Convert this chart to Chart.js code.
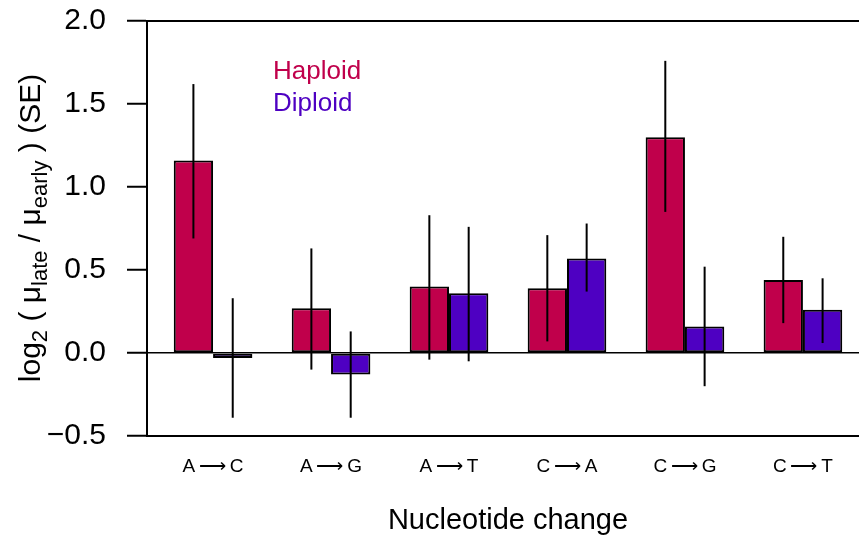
<!DOCTYPE html>
<html>
<head>
<meta charset="utf-8">
<script src="https://cdn.jsdelivr.net/npm/chart.js@4"></script>
<style>
  html, body { margin: 0; padding: 0; background: #fff; overflow: hidden; }
  #wrap { position: relative; width: 880px; height: 535px; }
</style>
</head>
<body>
<div id="wrap"><canvas id="myChart" width="880" height="535"></canvas></div>
<script>
// Chart data
const categories = ['A\u2009\u27F6\u2009C', 'A\u2009\u27F6\u2009G', 'A\u2009\u27F6\u2009T', 'C\u2009\u27F6\u2009A', 'C\u2009\u27F6\u2009G', 'C\u2009\u27F6\u2009T'];
const seriesNames = ['Haploid', 'Diploid'];
const haploid = [1.16, 0.27, 0.40, 0.39, 1.30, 0.44];
const haploidLow = [0.69, -0.10, -0.04, 0.07, 0.85, 0.18];
const haploidHigh = [1.62, 0.63, 0.83, 0.71, 1.76, 0.70];
const diploid = [-0.03, -0.13, 0.36, 0.57, 0.16, 0.26];
const diploidLow = [-0.39, -0.39, -0.05, 0.37, -0.20, 0.06];
const diploidHigh = [0.33, 0.13, 0.76, 0.78, 0.52, 0.45];
const yTicks = [-0.5, 0, 0.5, 1.0, 1.5, 2.0];

const colHap = '#C0004B';
const colDip = '#4E00C2';
const FONT = "'Liberation Sans', Arial, Helvetica, sans-serif";

// R-style barplot layout: each group = 1 gap + 2 bars (3 units)
const centers = categories.map((c, i) => 2 + 3 * i);
function toPoints(vals) {
  return vals.map((v, i) => ({ x: centers[i], y: v }));
}

// vertical SE lines, no caps
const errorBars = {
  id: 'errorBars',
  afterDatasetsDraw(chart) {
    const ctx = chart.ctx;
    const y = chart.scales.y;
    const ranges = [[haploidLow, haploidHigh], [diploidLow, diploidHigh]];
    ctx.save();
    ctx.strokeStyle = '#000';
    ctx.lineWidth = 2;
    ranges.forEach((r, d) => {
      chart.getDatasetMeta(d).data.forEach((bar, i) => {
        ctx.beginPath();
        ctx.moveTo(bar.x, y.getPixelForValue(r[0][i]));
        ctx.lineTo(bar.x, y.getPixelForValue(r[1][i]));
        ctx.stroke();
      });
    });
    ctx.restore();
  }
};

// text legend inside the plot + y title with subscripts
const annotations = {
  id: 'annotations',
  afterDraw(chart) {
    const ctx = chart.ctx;
    ctx.save();
    ctx.font = '26px ' + FONT;
    ctx.textBaseline = 'alphabetic';
    ctx.textAlign = 'left';
    chart.data.datasets.forEach((ds, i) => {
      ctx.fillStyle = ds.backgroundColor;
      ctx.fillText(ds.label, 273, 79 + i * 32);
    });

    // y axis title
    const big = '30px ' + FONT, small = '22px ' + FONT;
    const parts = [
      ['log', big, 0], ['2', small, 7], [' ( \u03bc', big, 0], ['late', small, 7],
      [' / \u03bc', big, 0], ['early', small, 7], [' ) (SE)', big, 0]
    ];
    let total = 0;
    parts.forEach(p => { ctx.font = p[1]; total += ctx.measureText(p[0]).width; });
    ctx.translate(40, 228);
    ctx.rotate(-Math.PI / 2);
    ctx.fillStyle = '#000';
    let x = -total / 2;
    parts.forEach(p => {
      ctx.font = p[1];
      ctx.fillText(p[0], x, p[2]);
      x += ctx.measureText(p[0]).width;
    });
    ctx.restore();
  }
};

const ctx = document.getElementById('myChart').getContext('2d');
new Chart(ctx, {
  type: 'bar',
  data: {
    datasets: [{
      label: seriesNames[0],
      data: toPoints(haploid),
      backgroundColor: colHap,
      borderColor: '#000',
      borderWidth: 2,
      borderSkipped: false
    }, {
      label: seriesNames[1],
      data: toPoints(diploid),
      backgroundColor: colDip,
      borderColor: '#000',
      borderWidth: 2,
      borderSkipped: false
    }]
  },
  options: {
    responsive: false,
    animation: false,
    devicePixelRatio: 1,
    categoryPercentage: 2 / 3,
    barPercentage: 1,
    layout: { padding: { left: 0, right: 11, top: 0, bottom: 0 } },
    plugins: {
      legend: { display: false },
      tooltip: { enabled: false }
    },
    scales: {
      x: {
        type: 'linear',
        position: 'bottom',
        offset: false,
        min: 0.32,
        max: 18.68,
        afterBuildTicks: s => { s.ticks = centers.map(v => ({ value: v })); },
        afterFit: s => { s.height = 99; s.paddingLeft = 0; s.paddingRight = 0; },
        grid: { display: false, drawTicks: false, offset: false },
        border: { display: true, color: '#000', width: 2 },
        ticks: {
          autoSkip: false,
          maxRotation: 0,
          padding: 19,
          color: '#000',
          font: { family: FONT, size: 19 },
          callback: (v, i) => categories[i]
        },
        title: {
          display: true,
          text: 'Nucleotide change',
          color: '#000',
          font: { family: FONT, size: 29, lineHeight: 1 },
          padding: { top: 0, bottom: 0 }
        }
      },
      x2: {
        type: 'linear',
        position: 'top',
        offset: false,
        min: 0.32,
        max: 18.68,
        afterFit: s => { s.height = 21; s.paddingLeft = 0; s.paddingRight = 0; },
        grid: { display: false, drawTicks: false, offset: false },
        border: { display: true, color: '#000', width: 2 },
        ticks: { display: false }
      },
      y: {
        min: -0.5,
        max: 2.0,
        afterBuildTicks: s => { s.ticks = yTicks.map(v => ({ value: v })); },
        afterFit: s => { s.width = 147; s.paddingTop = 0; s.paddingBottom = 0; },
        grid: {
          drawTicks: true,
          tickLength: 20,
          tickColor: '#000',
          tickWidth: 2,
          lineWidth: 1.5,
          color: c => (c.tick && c.tick.value === 0) ? '#000' : 'rgba(0,0,0,0)'
        },
        border: { display: true, color: '#000', width: 2 },
        ticks: {
          padding: 21,
          color: '#000',
          font: { family: FONT, size: 30 },
          callback: v => (v < 0 ? '\u2212' + Math.abs(v).toFixed(1) : v.toFixed(1))
        }
      }
    }
  },
  plugins: [errorBars, annotations]
});
</script>
</body>
</html>
